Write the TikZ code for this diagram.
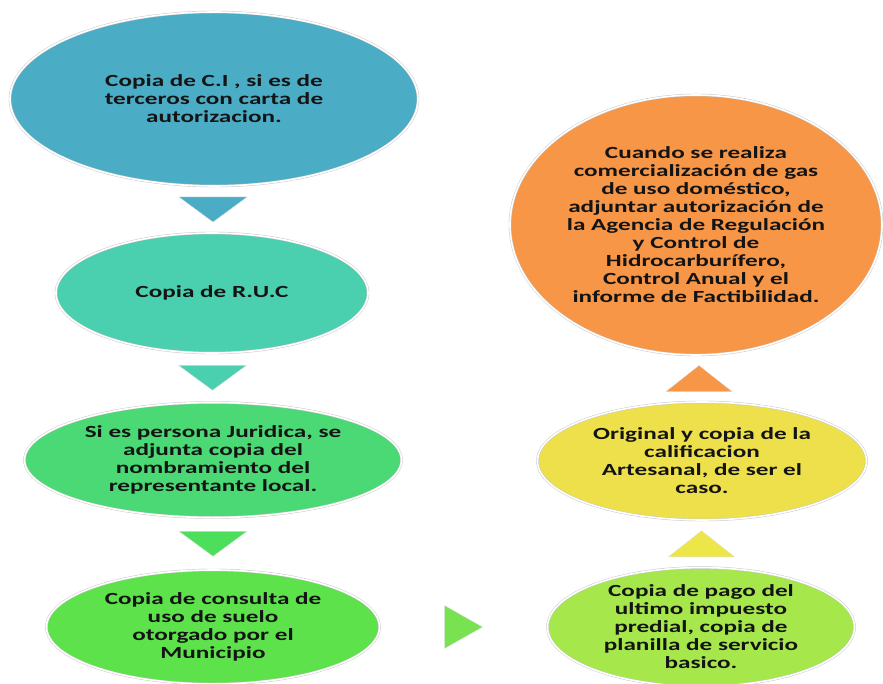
\documentclass[tikz,border=0pt]{standalone}
\usepackage{fontspec}
\setmainfont{Carlito}[FakeStretch=1.48]
\usetikzlibrary{shapes.geometric,calc}

\definecolor{cblue}{HTML}{4BACC6}
\definecolor{cteal}{HTML}{4ACFAF}
\definecolor{cgreen}{HTML}{4AD975}
\definecolor{cgreenb}{HTML}{4DDE5C}
\definecolor{clime}{HTML}{5DE24C}
\definecolor{climeb}{HTML}{78E250}
\definecolor{cpear}{HTML}{A6E84B}
\definecolor{cyellow}{HTML}{EDE04B}
\definecolor{cyellowb}{HTML}{ECE648}
\definecolor{corange}{HTML}{F79646}

\tikzset{
  bubble/.style={ellipse, inner sep=0pt, draw=black!22, double=white,
    double distance=1.6pt, line width=0.45pt, align=center,
    font=\bfseries\fontsize{17}{18}\selectfont, text=black!92},
  arrowhead/.style={draw=black!12, line width=0.3pt, line join=miter}
}

% downward arrowhead between two stacked nodes
\newcommand\tridown[3]{%
  \path let \p1=($(#1.south)!0.5!(#2.north)$) in
    [arrowhead, fill=#3] (\x1-34pt,\y1+12.5pt) -- (\x1+34pt,\y1+12.5pt)
    -- (\x1,\y1-12.5pt) -- cycle;}
% upward arrowhead, from the lower node #1 to the upper node #2
\newcommand\triup[3]{%
  \path let \p1=($(#1.north)!0.5!(#2.south)$) in
    [arrowhead, fill=#3] (\x1-33pt,\y1-13pt) -- (\x1+33pt,\y1-13pt)
    -- (\x1,\y1+13pt) -- cycle;}
% rightward arrowhead between two nodes side by side
\newcommand\triright[3]{%
  \path let \p1=($(#1.east)!0.5!(#2.west)$) in
    [arrowhead, fill=#3] (\x1-19pt,\y1+21.5pt) -- (\x1-19pt,\y1-21.5pt)
    -- (\x1+19pt,\y1) -- cycle;}

\begin{document}
\begin{tikzpicture}[x=1pt,y=1pt]
\useasboundingbox[fill=white] (0,0) rectangle (883,-684);

% left column, top to bottom
\node[bubble, fill=cblue, minimum width=408pt, minimum height=174pt] (ci) at (214,-99)
  {Copia de C.I , si es de\\terceros con carta de\\autorizacion.};
\node[bubble, fill=cteal, minimum width=312pt, minimum height=120pt] (ruc) at (212,-293)
  {Copia de R.U.C};
\node[bubble, fill=cgreen, minimum width=377pt, minimum height=115pt] (jur) at (213,-460)
  {Si es persona Juridica, se\\adjunta copia del\\nombramiento del\\representante local.};
\node[bubble, fill=clime, minimum width=333pt, minimum height=114pt] (suelo) at (213,-627)
  {Copia de consulta de\\uso de suelo\\otorgado por el\\Municipio};

% right column, bottom to top
\node[bubble, fill=cpear, minimum width=307pt, minimum height=114pt] (pago) at (701,-627)
  {Copia de pago del\\ultimo impuesto\\predial, copia de\\planilla de servicio\\basico.};
\node[bubble, fill=cyellow, minimum width=329pt, minimum height=118pt] (artes) at (702,-461)
  {Original y copia de la\\calificacion\\Artesanal, de ser el\\caso.};
\node[bubble, fill=corange, minimum width=372pt, minimum height=260pt] (gas) at (696,-225)
  {Cuando se realiza\\comercialización de gas\\de uso doméstico,\\adjuntar autorización de\\la Agencia de Regulación\\y Control de\\Hidrocarburífero,\\Control Anual y el\\informe de Factibilidad.};

% arrowheads
\tridown{ci}{ruc}{cblue}
\tridown{ruc}{jur}{cteal}
\tridown{jur}{suelo}{cgreenb}
\triright{suelo}{pago}{climeb}
\triup{pago}{artes}{cyellowb}
\triup{artes}{gas}{corange}
\end{tikzpicture}
\end{document}
